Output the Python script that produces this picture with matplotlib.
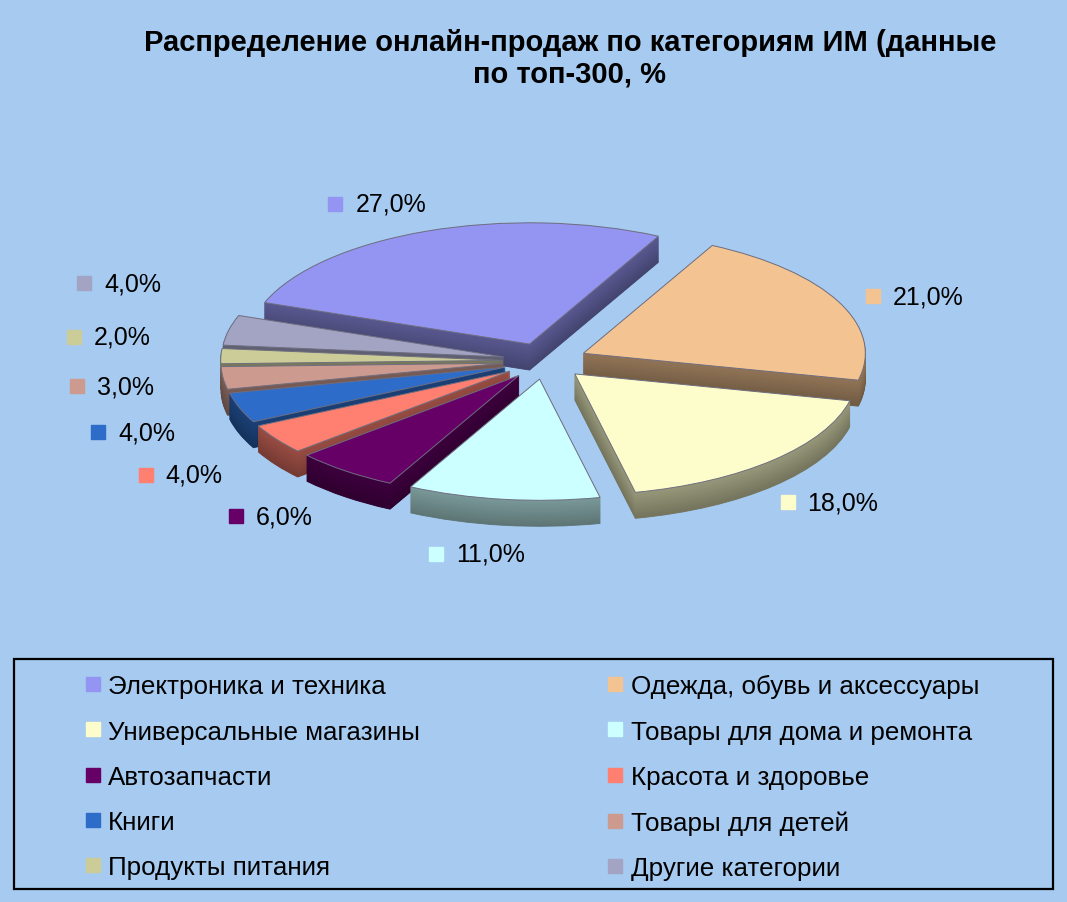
import numpy as np
import matplotlib.pyplot as plt
from matplotlib.lines import Line2D
from matplotlib.patches import Rectangle
from matplotlib.colors import to_rgb

plt.rcParams['font.family'] = ['Liberation Sans', 'DejaVu Sans']

# data
categories = ['Электроника и техника', 'Одежда, обувь и аксессуары',
              'Универсальные магазины', 'Товары для дома и ремонта',
              'Автозапчасти', 'Красота и здоровье', 'Книги',
              'Товары для детей', 'Продукты питания', 'Другие категории']
shares = [27.0, 21.0, 18.0, 11.0, 6.0, 4.0, 4.0, 3.0, 2.0, 4.0]
title = 'Распределение онлайн-продаж по категориям ИМ (данные\nпо топ-300, %'

# style
colors = ['#9494F2', '#F3C391', '#FDFDCC', '#CCFFFF', '#660066',
          '#FF8070', '#2D6CC8', '#CC9A8E', '#CCCC99', '#A3A3C4']
explode = [0.15] * len(shares)
bg = '#A6CAF0'
start = 160
squash = 0.43
nlev = 30

W, H = 1067, 903
fig = plt.figure(figsize=(W / 100, H / 100), dpi=100, facecolor=bg)
ax = fig.add_axes([0, 0, 1, 1])

# pixel geometry of the pie: centre and x-radius
cx, cy, rpx = 545, H - 362, 282
depth = 26 / (rpx * squash)

vals = np.array(shares)
ang = start - np.cumsum(np.r_[0, vals[:-1]]) * 3.6 - vals * 1.8
mid = np.radians(ang)
rank = np.argsort(np.argsort(-np.sin(mid)))  # back slices first


def shade(c, f):
    return tuple(np.clip(np.array(to_rgb(c)) * f, 0, 1))


for k in range(nlev + 1):
    t = k / nlev
    if k < nlev:
        cols = [shade(c, 0.46 + 0.14 * t) for c in colors]
    else:
        cols = colors
    wedges, _ = ax.pie(vals, explode=explode, colors=cols, startangle=start,
                       counterclock=False, center=(0, -depth * (1 - t)),
                       radius=1, frame=True)
    for i, w in enumerate(wedges):
        w.set_zorder(rank[i] * 100 + k + 1)
        if k == nlev:
            w.set_edgecolor('#6E6E80')
            w.set_linewidth(0.7)
        else:
            w.set_edgecolor(cols[i])
            w.set_linewidth(0.6)

ax.axis('off')
ax.set_aspect('auto')
ax.set_xlim(-cx / rpx, (W - cx) / rpx)
ax.set_ylim(-cy / (rpx * squash), (H - cy) / (rpx * squash))

# data labels (text centres); the left-hand ones are pushed apart upwards
lr, ldrop = 1.5, 0.1
lx = lr * np.cos(mid)
ly = lr * np.sin(mid)
left = [i for i in np.argsort(ly) if lx[i] < 0 and ly[i] < 1.0]
for j, (a, b) in enumerate(zip(left[:-1], left[1:])):
    gap = 0.29 + 0.03 * j
    if ly[b] - ly[a] < gap:
        ly[b] = ly[a] + gap
ly = ly - ldrop

renderer = fig.canvas.get_renderer()
to_data = ax.transData.inverted()
for i in range(len(vals)):
    txt = f'{vals[i]:.1f}'.replace('.', ',') + '%'
    t = ax.text(lx[i], ly[i], txt, fontsize=18, ha='center', va='center',
                color='black', zorder=2000)
    bb = t.get_window_extent(renderer)
    sx, sy = to_data.transform((bb.x0 - 20, (bb.y0 + bb.y1) / 2))
    ax.plot(sx, ly[i], marker='s', ms=9.5, color=colors[i],
            ls='none', zorder=2000)

fig.text(0.534, 0.935, title, fontsize=21, fontweight='bold',
         ha='center', va='center', linespacing=1.13)

# legend, filled row by row
order = [0, 2, 4, 6, 8, 1, 3, 5, 7, 9]
handles = [Line2D([], [], marker='s', ls='none', ms=10, color=colors[i])
           for i in order]
fig.legend(handles, [categories[i] for i in order], ncol=2, frameon=False,
           loc='center', bbox_to_anchor=(0.4985, 0.1384), fontsize=18.7,
           handlelength=0.6, handletextpad=0.3, columnspacing=7.2,
           labelspacing=0.82)
fig.patches.append(Rectangle((14 / W, 13 / H), 1039 / W, 230 / H,
                             transform=fig.transFigure, fill=False,
                             edgecolor='black', lw=1.6))

fig.savefig('out.png', dpi=100, facecolor=bg)
